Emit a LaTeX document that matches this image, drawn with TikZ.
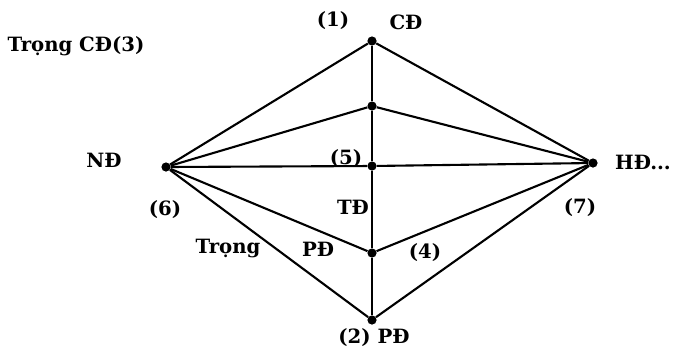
\documentclass[tikz,border=0pt]{standalone}
\usepackage{fontspec}
\setmainfont{DejaVu Serif}
\usetikzlibrary{positioning}

\begin{document}
\begin{tikzpicture}[
    x=0.25mm, y=-0.25mm,
    pt/.style={circle, fill=black, inner sep=0pt, minimum size=2.3mm},
    lbl/.style={inner sep=0pt, font=\fontsize{14}{16}\selectfont\bfseries},
    ln/.style={line width=1.5pt}
]
\useasboundingbox (0,0) rectangle (676,350);
% vertices
\node[pt] (cd)  at (372,41)  {};
\node[pt] (tcd) at (372,106) {};
\node[pt] (m5)  at (372,166) {};
\node[pt] (pd4) at (372,253) {};
\node[pt] (pd2) at (372,320) {};
\node[pt] (nd)  at (166,167) {};
\node[pt] (hd)  at (593,163) {};
% labels
\node[lbl] (l1)   at (333,21)  {(1)};
\node[lbl] (lcd)  at (406,22)  {CĐ};
\node[lbl] (l3)   at (76,46)   {Trọng CĐ(3)};
\node[lbl] (lnd)  at (104,160) {NĐ};
\node[lbl] (l5)   at (346,159) {(5)};
\node[lbl] (lhd)  at (643,162) {HĐ...};
\node[lbl] (l6)   at (165,210) {(6)};
\node[lbl] (ltd)  at (353,207) {TĐ};
\node[lbl] (l7)   at (580,208) {(7)};
\node[lbl] (ltr)  at (228,249) {Trọng};
\node[lbl] (lpd)  at (318,249) {PĐ};
\node[lbl] (l4)   at (425,253) {(4)};
\node[lbl] (l2)   at (374,338) {(2) PĐ};
% edges
\draw[ln] (cd) -- (tcd) -- (m5) -- (pd4) -- (pd2);
\draw[ln] (nd) -- (cd) -- (hd);
\draw[ln] (nd) -- (tcd) -- (hd);
\draw[ln] (nd) -- (m5) -- (hd);
\draw[ln] (nd) -- (pd4) -- (hd);
\draw[ln] (nd) -- (pd2) -- (hd);
\end{tikzpicture}
\end{document}
